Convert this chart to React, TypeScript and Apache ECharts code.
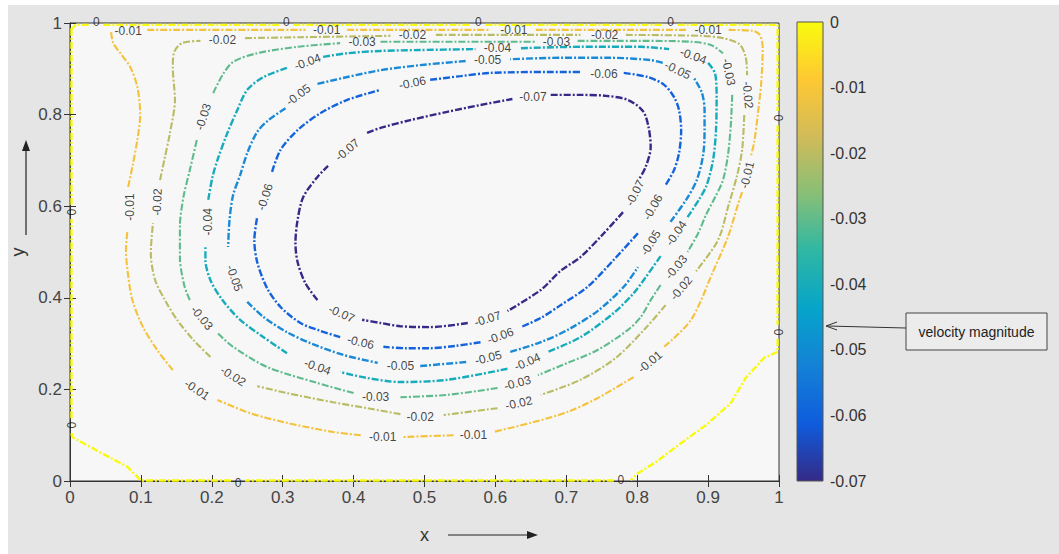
import React, { useEffect, useRef } from 'react';
import * as echarts from 'echarts';

type Pt = [number, number] | null;

const FONT = '"Liberation Sans", Arial, sans-serif';

// contour levels and their colours (parula)
const LEVELS = [0, -0.01, -0.02, -0.03, -0.04, -0.05, -0.06, -0.07];
const LEVEL_COLORS = ['#f9fb0e', '#f4c23c', '#b9bc63', '#5fbb8d', '#17abbc', '#1a8ad6', '#1563dc', '#352a87'];
const COLORBAR_STOPS = ['#f9fb0e', '#fec832', '#d1bb59', '#87bf77', '#2eb7a4', '#06a4ca', '#1481d6', '#0f5cdd', '#352a87'];

const X_TICKS = { min: 0, max: 1, interval: 0.1 };
const Y_TICKS = { min: 0, max: 1, interval: 0.2 };
const CBAR_TICKS = { min: -0.07, max: 0, interval: 0.01 };

// contour paths (x, y); null = break where an inline label sits
const C_0: Pt[] = [
  [0.001, 0.985], [0.008, 0.996], [0.027, 0.996], null,
  [0.047, 0.996], [0.295, 0.996], null,
  [0.315, 0.996], [0.566, 0.996], null,
  [0.586, 0.996], [0.838, 0.996], null,
  [0.857, 0.996], [0.998, 0.996], [0.998, 0.808], null,
  [0.998, 0.777], [0.998, 0.341], null,
  [0.998, 0.310], [0.998, 0.282], [0.979, 0.269], [0.953, 0.225], [0.932, 0.170], [0.897, 0.122], [0.862, 0.083], [0.826, 0.041], [0.801, 0.017], [0.791, 0.002], null,
  [0.767, 0.001], [0.247, 0.001], null,
  [0.227, 0.001], [0.100, 0.001], [0.081, 0.031], [0.042, 0.063], [0.003, 0.096], [0.002, 0.107], null,
  [0.002, 0.137], [0.002, 0.572], null,
  [0.002, 0.603], [0.002, 0.985],
];
const C_01: Pt[] = [
  [0.109, 0.985], [0.254, 0.985], [0.332, 0.985], null,
  [0.391, 0.985], [0.593, 0.985], null,
  [0.657, 0.985], [0.869, 0.985], null,
  [0.929, 0.985], [0.963, 0.983], [0.973, 0.974], [0.977, 0.945], [0.975, 0.871], [0.970, 0.799], [0.965, 0.740], [0.960, 0.707], null,
  [0.948, 0.631], [0.942, 0.603], [0.928, 0.533], [0.908, 0.461], [0.876, 0.352], [0.838, 0.293], null,
  [0.795, 0.227], [0.744, 0.181], [0.702, 0.151], [0.650, 0.127], [0.597, 0.107], null,
  [0.541, 0.100], [0.470, 0.096], null,
  [0.410, 0.100], [0.371, 0.107], [0.306, 0.127], [0.254, 0.148], [0.208, 0.177], null,
  [0.145, 0.242], [0.123, 0.286], [0.103, 0.336], [0.088, 0.395], [0.081, 0.461], [0.079, 0.504], [0.081, 0.548], null,
  [0.082, 0.642], [0.088, 0.686], [0.095, 0.745], [0.099, 0.799], [0.095, 0.860], [0.085, 0.904], [0.073, 0.930], [0.061, 0.956], [0.058, 0.980],
];
const C_02: Pt[] = [
  [0.247, 0.967], [0.325, 0.969], [0.452, 0.972], null,
  [0.516, 0.974], [0.720, 0.974], null,
  [0.784, 0.974], [0.890, 0.972], [0.921, 0.967], [0.944, 0.954], [0.953, 0.926], [0.955, 0.886], null,
  [0.951, 0.799], [0.948, 0.723], [0.941, 0.668], [0.929, 0.603], [0.914, 0.526], [0.883, 0.458], null,
  [0.840, 0.384], [0.812, 0.334], [0.770, 0.269], [0.720, 0.221], [0.664, 0.188], null,
  [0.603, 0.159], [0.527, 0.144], null,
  [0.466, 0.146], [0.419, 0.159], [0.371, 0.172], [0.306, 0.192], [0.264, 0.207], null,
  [0.198, 0.271], [0.174, 0.308], [0.151, 0.352], [0.134, 0.395], [0.120, 0.439], [0.114, 0.498], [0.117, 0.563], null,
  [0.127, 0.657], [0.133, 0.701], [0.141, 0.760], [0.148, 0.832], [0.145, 0.904], [0.147, 0.937], [0.158, 0.956], [0.184, 0.961],
];
const C_03: Pt[] = [
  [0.202, 0.847], [0.215, 0.886], [0.230, 0.915], [0.264, 0.934], [0.321, 0.948], [0.381, 0.956], null,
  [0.438, 0.959], [0.523, 0.959], [0.657, 0.959], null,
  [0.716, 0.961], [0.805, 0.961], [0.876, 0.959], [0.904, 0.952], [0.921, 0.934], null,
  [0.934, 0.843], [0.932, 0.777], [0.928, 0.712], [0.921, 0.657], [0.910, 0.620], [0.897, 0.581], [0.886, 0.541], [0.871, 0.500], null,
  [0.833, 0.428], [0.819, 0.395], [0.805, 0.358], [0.787, 0.330], [0.744, 0.286], [0.702, 0.258], [0.660, 0.231], null,
  [0.603, 0.203], [0.532, 0.188], [0.466, 0.183], null,
  [0.400, 0.192], [0.349, 0.214], [0.278, 0.249], [0.230, 0.293], [0.208, 0.323], null,
  [0.169, 0.395], [0.161, 0.428], [0.155, 0.489], [0.155, 0.555], [0.160, 0.620], [0.169, 0.679], [0.179, 0.745],
];
const C_04: Pt[] = [
  [0.357, 0.926], [0.391, 0.934], [0.438, 0.939], [0.494, 0.941], [0.572, 0.943], null,
  [0.636, 0.945], [0.720, 0.948], [0.805, 0.948], [0.845, 0.943], null,
  [0.900, 0.913], [0.910, 0.889], [0.912, 0.836], [0.911, 0.762], [0.907, 0.701], [0.898, 0.646], [0.887, 0.614], [0.871, 0.576], null,
  [0.833, 0.491], [0.812, 0.445], [0.795, 0.410], [0.767, 0.367], [0.720, 0.314], [0.674, 0.282], null,
  [0.617, 0.245], [0.532, 0.221], [0.466, 0.216], [0.419, 0.225], [0.381, 0.238], null,
  [0.306, 0.279], [0.273, 0.314], [0.240, 0.352], [0.215, 0.395], [0.198, 0.439], [0.191, 0.483], [0.191, 0.515], null,
  [0.195, 0.614], [0.201, 0.664], [0.208, 0.701], [0.222, 0.760], [0.236, 0.810], [0.250, 0.854], [0.273, 0.882], [0.306, 0.902],
];
const C_05: Pt[] = [
  [0.304, 0.814], [0.280, 0.788], [0.264, 0.762], [0.250, 0.716], [0.240, 0.668], [0.230, 0.624], [0.225, 0.570], [0.223, 0.511], null,
  [0.250, 0.391], [0.273, 0.358], [0.306, 0.325], [0.339, 0.301], [0.386, 0.275], [0.434, 0.258], null,
  [0.494, 0.251], [0.561, 0.260], null,
  [0.621, 0.282], [0.664, 0.303], [0.702, 0.330], [0.744, 0.371], [0.781, 0.424], [0.801, 0.467], null,
  [0.847, 0.566], [0.869, 0.614], [0.884, 0.657], [0.893, 0.712], [0.895, 0.766], [0.895, 0.810], [0.891, 0.849], [0.880, 0.880], null,
  [0.836, 0.913], [0.819, 0.919], [0.763, 0.924], [0.692, 0.924], [0.621, 0.921], null,
  [0.558, 0.917], [0.494, 0.908], [0.438, 0.897], [0.391, 0.882], [0.349, 0.867],
];
const C_06: Pt[] = [
  [0.508, 0.876], [0.551, 0.884], [0.593, 0.891], [0.674, 0.893], [0.720, 0.893], null,
  [0.781, 0.891], [0.815, 0.882], [0.838, 0.865], [0.852, 0.838], [0.859, 0.810], [0.862, 0.766], [0.859, 0.716], [0.852, 0.679], [0.840, 0.646], null,
  [0.801, 0.541], [0.767, 0.483], [0.730, 0.424], [0.692, 0.384], [0.664, 0.356], [0.636, 0.336], null,
  [0.579, 0.303], [0.544, 0.295], [0.508, 0.290], [0.473, 0.290], [0.442, 0.293], null,
  [0.381, 0.314], [0.353, 0.328], [0.325, 0.345], [0.297, 0.380], [0.278, 0.421], [0.264, 0.478], [0.260, 0.526], [0.264, 0.576], null,
  [0.285, 0.675], [0.297, 0.723], [0.321, 0.766], [0.353, 0.803], [0.391, 0.832], [0.438, 0.854],
];
const C_07: Pt[] = [
  [0.678, 0.843], [0.720, 0.843], [0.756, 0.841], [0.787, 0.832], [0.808, 0.808], [0.816, 0.773], [0.819, 0.729], [0.812, 0.686], [0.802, 0.657], null,
  [0.780, 0.587], [0.753, 0.541], [0.720, 0.489], [0.692, 0.459], [0.664, 0.417], [0.617, 0.371], null,
  [0.561, 0.345], [0.508, 0.336], [0.466, 0.338], [0.438, 0.345], [0.412, 0.352], null,
  [0.349, 0.395], [0.332, 0.432], [0.321, 0.478], [0.318, 0.520], [0.321, 0.570], [0.329, 0.620], [0.349, 0.664], [0.364, 0.688], null,
  [0.419, 0.760], [0.438, 0.771], [0.480, 0.788], [0.532, 0.806], [0.579, 0.821], [0.624, 0.834],
];
const CONTOURS = [C_0, C_01, C_02, C_03, C_04, C_05, C_06, C_07];

// inline labels: x, y, rotation (deg)
const L_0 = [[0.037, 1.002, 0], [0.305, 1.002, 0], [0.576, 1.002, 0], [0.847, 1.002, 0], [1.0, 0.793, 90], [1.0, 0.325, 90], [0.777, 0.002, 0], [0.237, -0.004, 0], [0.003, 0.122, 90], [0.003, 0.587, 90]];
const L_01 = [[0.082, 0.983, 0], [0.362, 0.985, 0], [0.626, 0.985, 0], [0.900, 0.985, 0], [0.955, 0.668, 76], [0.818, 0.260, 40], [0.569, 0.100, 0], [0.441, 0.096, 0], [0.179, 0.199, -34], [0.085, 0.598, 90]];
const L_02 = [[0.215, 0.963, 0], [0.483, 0.974, 0], [0.754, 0.974, 0], [0.956, 0.843, -85], [0.862, 0.421, 50], [0.633, 0.170, 12], [0.494, 0.140, 0], [0.230, 0.229, -32], [0.123, 0.609, 88]];
const L_03 = [[0.412, 0.959, 0], [0.686, 0.959, 0], [0.929, 0.893, -78], [0.855, 0.467, 50], [0.631, 0.214, 15], [0.431, 0.183, 0], [0.186, 0.356, -50], [0.188, 0.795, 72]];
const L_04 = [[0.335, 0.915, 20], [0.603, 0.945, 0], [0.879, 0.928, -20], [0.855, 0.541, 55], [0.645, 0.260, 23], [0.349, 0.249, -20], [0.194, 0.566, 90]];
const L_05 = [[0.322, 0.843, 37], [0.589, 0.919, 0], [0.857, 0.897, -26], [0.819, 0.520, 58], [0.590, 0.269, 14], [0.466, 0.251, 0], [0.232, 0.443, -70]];
const L_06 = [[0.483, 0.869, 11], [0.753, 0.889, 0], [0.822, 0.598, 60], [0.607, 0.317, 20], [0.410, 0.303, -13], [0.275, 0.620, 72]];
const L_07 = [[0.653, 0.838, 0], [0.797, 0.629, 63], [0.589, 0.354, 17], [0.383, 0.365, -24], [0.391, 0.723, 40]];
const LABELS = [L_0, L_01, L_02, L_03, L_04, L_05, L_06, L_07];

const ANNOTATION = 'velocity magnitude';

function splitSegments(pts: Pt[]): [number, number][][] {
  const segs: [number, number][][] = [];
  let cur: [number, number][] = [];
  for (const p of pts) {
    if (p === null) {
      if (cur.length) segs.push(cur);
      cur = [];
    } else cur.push(p);
  }
  if (cur.length) segs.push(cur);
  return segs;
}

const levelText = (v: number) => (v === 0 ? '0' : v.toFixed(2));

export default function App() {
  const ref = useRef<HTMLDivElement>(null);
  useEffect(() => {
    if (!ref.current) return;
    const chart = echarts.init(ref.current, undefined, { renderer: 'svg' });

    const series: any[] = [];
    CONTOURS.forEach((pts, i) => {
      splitSegments(pts).forEach((seg) => {
        series.push({
          type: 'line',
          xAxisIndex: 0,
          yAxisIndex: 0,
          data: seg,
          symbol: 'none',
          smooth: i === 0 ? false : 0.3,
          clip: false,
          silent: true,
          z: 3,
          lineStyle: { color: LEVEL_COLORS[i], width: i === 0 ? 2.4 : (i >= 4 ? 2.4 : 2.1), type: [7, 2, 2, 2] },
        });
      });
    });
    const labelData: any[] = [];
    LABELS.forEach((arr, i) => {
      arr.forEach(([x, y, r]) => {
        labelData.push({ name: levelText(LEVELS[i]), value: [x, y], label: { rotate: r } });
      });
    });
    series.push({
      type: 'scatter',
      xAxisIndex: 0,
      yAxisIndex: 0,
      symbolSize: 1,
      itemStyle: { color: 'rgba(0,0,0,0)' },
      clip: false,
      silent: true,
      z: 5,
      label: { show: true, position: 'inside', formatter: '{b}', fontSize: 12, fontFamily: FONT, color: '#111' },
      data: labelData,
    });

    const axisCommon = {
      axisLine: { show: true, lineStyle: { color: '#333', width: 1 } },
      axisTick: { show: true, inside: true, length: 6, lineStyle: { color: '#333' } },
      splitLine: { show: false },
    };

    chart.setOption({
      animation: false,
      backgroundColor: '#e5e5e5',
      grid: [
        { left: 70, right: 280, top: 23, bottom: 73, show: true, backgroundColor: '#f7f7f7', borderColor: '#333', borderWidth: 1 },
        { left: 797, width: 26, top: 22, height: 459, show: false },
      ],
      xAxis: [
        {
          type: 'value', gridIndex: 0, ...X_TICKS, position: 'bottom', ...axisCommon,
          name: 'x', nameLocation: 'middle', nameGap: 45,
          nameTextStyle: { fontSize: 18, color: '#333', fontFamily: FONT },
          axisLabel: { fontSize: 17, color: '#444', margin: 8, fontFamily: FONT },
        },
        { type: 'value', gridIndex: 0, ...X_TICKS, position: 'top', ...axisCommon, axisLabel: { show: false } },
        { type: 'value', gridIndex: 1, min: 0, max: 1, show: false },
      ],
      yAxis: [
        {
          type: 'value', gridIndex: 0, ...Y_TICKS, position: 'left', ...axisCommon,
          name: 'y', nameLocation: 'middle', nameGap: 32, nameRotate: 90,
          nameTextStyle: { fontSize: 18, color: '#333', fontFamily: FONT },
          axisLabel: { fontSize: 17, color: '#444', margin: 8, fontFamily: FONT },
        },
        { type: 'value', gridIndex: 0, ...Y_TICKS, position: 'right', ...axisCommon, axisLabel: { show: false } },
        {
          type: 'value', gridIndex: 1, ...CBAR_TICKS, position: 'right',
          axisLine: { show: false }, axisTick: { show: false }, splitLine: { show: false },
          axisLabel: {
            fontSize: 16, color: '#333', margin: 7, fontFamily: FONT,
            formatter: (v: number) => (Math.abs(v) < 1e-9 ? '0' : v.toFixed(2)),
          },
        },
      ],
      graphic: [
        { type: 'rect', shape: { x: 0, y: 0, width: 1059, height: 5 }, style: { fill: '#ffffff' }, silent: true },
        { type: 'rect', shape: { x: 0, y: 0, width: 8, height: 554 }, style: { fill: '#ffffff' }, silent: true },
        {
          type: 'rect', shape: { x: 797, y: 22, width: 26, height: 459 }, silent: true,
          style: {
            fill: {
              type: 'linear', x: 0, y: 0, x2: 0, y2: 1,
              colorStops: COLORBAR_STOPS.map((c, i) => ({ offset: i / (COLORBAR_STOPS.length - 1), color: c })),
            },
            stroke: '#555', lineWidth: 1,
          },
        },
        { type: 'rect', shape: { x: 906, y: 313, width: 141, height: 37 }, style: { fill: '#ececec', stroke: '#444', lineWidth: 1 }, silent: true },
        {
          type: 'text', x: 976.5, y: 331.5, silent: true,
          style: { text: ANNOTATION, fontSize: 14, fontFamily: FONT, fill: '#222', align: 'center', verticalAlign: 'middle' },
        },
        { type: 'line', shape: { x1: 906, y1: 328, x2: 827, y2: 326 }, style: { stroke: '#333', lineWidth: 1 }, silent: true },
        { type: 'polyline', shape: { points: [[837, 322], [826, 326], [837, 330]] }, style: { stroke: '#333', lineWidth: 1, fill: 'none' }, silent: true },
        { type: 'line', shape: { x1: 448, y1: 535, x2: 530, y2: 535 }, style: { stroke: '#222', lineWidth: 1.2 }, silent: true },
        { type: 'polygon', shape: { points: [[538, 535], [527, 531], [527, 539]] }, style: { fill: '#222' }, silent: true },
        { type: 'line', shape: { x1: 26, y1: 235, x2: 26, y2: 148 }, style: { stroke: '#222', lineWidth: 1.2 }, silent: true },
        { type: 'polygon', shape: { points: [[26, 140], [22, 151], [30, 151]] }, style: { fill: '#222' }, silent: true },
      ],
      series,
    });
    return () => chart.dispose();
  }, []);
  return <div ref={ref} style={{ position: 'fixed', left: 0, top: 0, width: 1059, height: 554 }} />;
}
